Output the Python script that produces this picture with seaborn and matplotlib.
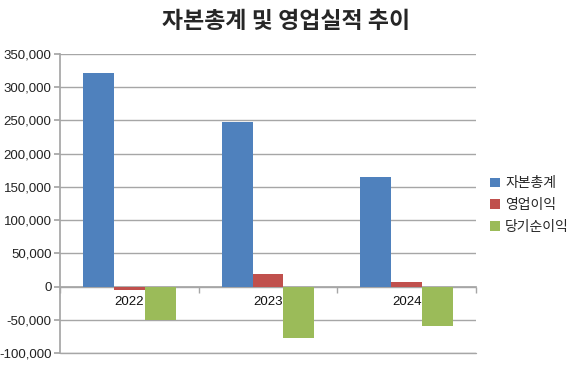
import matplotlib
matplotlib.use("Agg")
import matplotlib.pyplot as plt
import seaborn as sns
import pandas as pd
from matplotlib.ticker import FuncFormatter, FixedLocator

years = ["2022", "2023", "2024"]
series = ["자본총계", "영업이익", "당기순이익"]
equity = [321000, 247000, 165000]
op_income = [-4500, 18500, 7000]
net_income = [-50500, -77500, -59500]
colors = ["#4F81BD", "#C0504D", "#9BBB59"]
yticks = list(range(-100000, 350001, 50000))
title = "자본총계 및 영업실적 추이"

rows = []
for name, vals in zip(series, [equity, op_income, net_income]):
    for y, v in zip(years, vals):
        rows.append({"year": y, "series": name, "value": v})
df = pd.DataFrame(rows)

sns.set_theme(style="white")
plt.rcParams["font.family"] = ["Liberation Sans", "Noto Sans CJK KR", "DejaVu Sans"]

fig = plt.figure(figsize=(5.74, 3.65), dpi=100)
ax = fig.add_axes([60 / 574, 1 - 353 / 365, 416 / 574, 299 / 365])

sns.barplot(data=df, x="year", y="value", hue="series", order=years,
            hue_order=series, palette=colors, width=0.67, gap=0,
            saturation=1, ax=ax, legend=True, zorder=3, linewidth=0)

ax.set_ylim(-100000, 350000)
ax.set_xlim(-0.5, 2.5)
ax.set_yticks(yticks)
ax.yaxis.set_major_formatter(FuncFormatter(lambda v, p: f"{int(v):,}"))
ax.grid(axis="y", color="#A6A6A6", linewidth=1.0, zorder=0)
ax.axhline(-100000, color="#A6A6A6", linewidth=1.0, clip_on=False, zorder=0)
ax.set_axisbelow(True)
ax.set_xlabel("")
ax.set_ylabel("")

for s in ["top", "right"]:
    ax.spines[s].set_visible(False)
ax.spines["left"].set_color("#A6A6A6")
ax.spines["bottom"].set_position(("data", 0))
ax.spines["bottom"].set_color("#A6A6A6")

ax.tick_params(axis="y", which="major", length=4, color="#A6A6A6", left=True,
               labelsize=9.5, labelcolor="#222222", pad=2)
ax.tick_params(axis="x", which="major", length=0, labelsize=9.5, labelcolor="#111111", pad=7)
ax.xaxis.set_minor_locator(FixedLocator([-0.5, 0.5, 1.5, 2.5]))
ax.tick_params(axis="x", which="minor", length=4, color="#A6A6A6", bottom=True, direction="out")

leg = ax.legend(loc="center left", bbox_to_anchor=(1.02, 0.5 - 0.005), frameon=False,
                fontsize=10, handlelength=0.7, handleheight=0.7, handletextpad=0.4,
                labelspacing=0.55, borderaxespad=0)

fig.text(286 / 574, 1 - 21 / 365, title, ha="center", va="center",
         fontsize=16.5, fontweight="bold", family=["Noto Sans CJK KR", "DejaVu Sans"])

fig.savefig("out.png", dpi=100)
